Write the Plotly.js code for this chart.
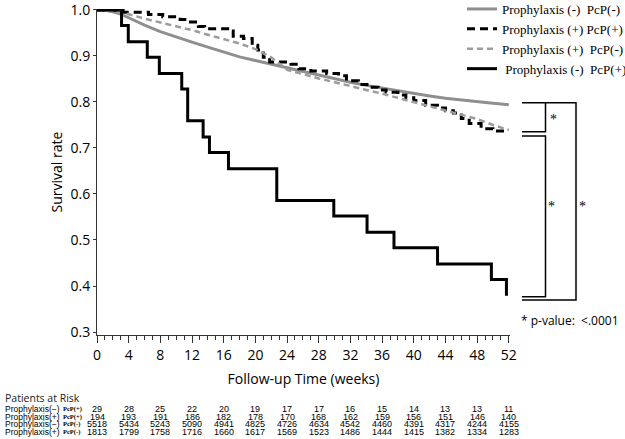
<!DOCTYPE html>
<html>
<head>
<meta charset="utf-8">
<script src="https://cdn.plot.ly/plotly-3.0.1.min.js"></script>
<style>html,body{margin:0;padding:0;background:#fff;}#chart{width:625px;height:439px;}</style>
</head>
<body>
<div id="chart"></div>
<script>
// ---------- DATA ----------
const seriesNames = [
  "Prophylaxis (-)\u00a0 PcP(-)",
  "Prophylaxis (+) PcP(+)",
  "Prophylaxis (+)\u00a0 PcP(-)",
  "\u00a0Prophylaxis (-)\u00a0 PcP(+)"
];

// Prophylaxis(-) PcP(-)
const negNegWeeks = [0,1,2,3,4,5,6,8,10,12,14,16,18,20,22,24,26,28,30,32,34,36,38,40,42,44,46,48,50,52];
const negNegSurv  = [1.0,0.999,0.996,0.991,0.983,0.975,0.967,0.953,0.941,0.930,0.919,0.908,0.898,0.890,0.882,0.874,0.866,0.858,0.850,0.843,0.836,0.830,0.824,0.818,0.813,0.808,0.804,0.800,0.797,0.794];

// Prophylaxis(+) PcP(+)
const posPosWeeks = [0,3.3,6.5,8.3,10.5,11.3,12.8,13.6,16.5,17.2,18.5,19.6,20.3,21.0,21.8,24.5,25.5,27.0,29.0,30.5,31.5,33.0,34.5,35.5,36.5,38.0,39.0,40.0,41.5,43.0,44.0,45.0,46.0,47.0,48.5,50.0,52.0];
const posPosSurv  = [1.0,0.995,0.990,0.985,0.979,0.974,0.964,0.959,0.954,0.943,0.938,0.923,0.913,0.897,0.887,0.882,0.872,0.867,0.862,0.857,0.846,0.838,0.832,0.826,0.821,0.815,0.809,0.803,0.793,0.787,0.781,0.776,0.764,0.753,0.742,0.737,0.737];

// Prophylaxis(+) PcP(-)
const posNegWeeks = [0,2,3,4,5,6,7,8,10,12,14,16,18,20,22,24,26,28,30,32,34,36,38,40,42,44,46,48,50,52];
const posNegSurv  = [1.0,0.998,0.995,0.991,0.986,0.981,0.977,0.973,0.965,0.956,0.946,0.937,0.927,0.915,0.897,0.870,0.860,0.851,0.843,0.834,0.826,0.818,0.809,0.800,0.791,0.781,0.772,0.763,0.750,0.739];

// Prophylaxis(-) PcP(+)
const negPosWeeks = [0,3.1,3.95,6.35,7.87,10.7,11.45,13.4,14.2,16.6,22.7,29.9,34.1,37.5,43.0,49.8,51.7];
const negPosSurv  = [1.0,0.966,0.931,0.897,0.862,0.828,0.759,0.724,0.690,0.655,0.586,0.552,0.517,0.483,0.448,0.414,0.379];

// axis ticks
const xTickVals = [0,4,8,12,16,20,24,28,32,36,40,44,48,52];
const yTickVals = [0.3,0.4,0.5,0.6,0.7,0.8,0.9,1.0];

// patients at risk table
const riskWeeks = [0,4,8,12,16,20,24,28,32,36,40,44,48,52];
const riskRowLabels = ["Prophylaxis(\u2212)","Prophylaxis(+)","Prophylaxis(\u2212)","Prophylaxis(+)"];
const riskRowTags = ["PcP(+)","PcP(+)","PcP(-)","PcP(-)"];
const riskNegPos = [29,28,25,22,20,19,17,17,16,15,14,13,13,11];
const riskPosPos = [194,193,191,186,182,178,170,168,162,159,156,151,146,140];
const riskNegNeg = [5518,5434,5243,5090,4941,4825,4726,4634,4542,4460,4391,4317,4244,4155];
const riskPosNeg = [1813,1799,1758,1716,1660,1617,1569,1523,1486,1444,1415,1382,1334,1283];

// ---------- LAYOUT GEOMETRY ----------
const W = 625, H = 439;
const ML = 97, MR = 115, MT = 9, MB = 104;
const PW = W - ML - MR, PH = H - MT - MB;
const XR = [0, 52.15], YR = [0.2935, 1.002];
const fx = px => (px - ML) / PW;           // pixel x -> paper
const fy = py => (H - MB - py) / PH;       // pixel y -> paper
const vy = v => (v - YR[0]) / (YR[1] - YR[0]); // data y -> paper

const SANS = "'Open Sans', 'DejaVu Sans', sans-serif";
const NARROW = "'Liberation Sans', Arial, sans-serif";
const SERIF = "'Liberation Serif', 'DejaVu Serif', serif";

const traces = [
  {x: negNegWeeks, y: negNegSurv, name: seriesNames[0], mode: 'lines',
   line: {color: '#8f8f8f', width: 3}},
  {x: posPosWeeks, y: posPosSurv, name: seriesNames[1], mode: 'lines',
   line: {color: '#000000', width: 3, dash: '8px,5px', shape: 'hv'}},
  {x: posNegWeeks, y: posNegSurv, name: seriesNames[2], mode: 'lines',
   line: {color: '#9c9c9c', width: 2.5, dash: '6px,4px'}},
  {x: negPosWeeks, y: negPosSurv, name: seriesNames[3], mode: 'lines',
   line: {color: '#000000', width: 3, shape: 'hv'}}
];

// ---------- ANNOTATIONS ----------
const ann = [];
function txt(o) { ann.push(Object.assign({showarrow: false, xanchor: 'center', yanchor: 'middle', borderpad: 0}, o)); }

// significance stars & p-value note
txt({xref: 'paper', yref: 'paper', x: fx(553), y: fy(119), text: '*', font: {family: SERIF, size: 14, color: '#000'}});
txt({xref: 'paper', yref: 'paper', x: fx(551), y: fy(206), text: '*', font: {family: SERIF, size: 14, color: '#000'}});
txt({xref: 'paper', yref: 'paper', x: fx(582), y: fy(206), text: '*', font: {family: SERIF, size: 14, color: '#000'}});
txt({xref: 'paper', yref: 'paper', x: fx(520), y: fy(320), xanchor: 'left',
     text: '* p-value:\u00a0 <.0001', font: {family: SANS, size: 12, color: '#000'}});

// patients at risk
txt({xref: 'paper', yref: 'paper', x: fx(4), y: fy(398), xanchor: 'left',
     text: 'Patients at Risk', font: {family: SANS, size: 10.5, color: '#222'}});
const riskRows = [riskNegPos, riskPosPos, riskNegNeg, riskPosNeg];
const rowPix = [409, 416.7, 424.3, 431.7];
riskRows.forEach((row, r) => {
  txt({xref: 'paper', yref: 'paper', x: fx(4), y: fy(rowPix[r]), xanchor: 'left',
       text: riskRowLabels[r], font: {family: NARROW, size: 8.5, color: '#000'}});
  txt({xref: 'paper', yref: 'paper', x: fx(62), y: fy(rowPix[r]), xanchor: 'left',
       text: '<b>' + riskRowTags[r] + '</b>', font: {family: SERIF, size: 6.5, color: '#000'}});
  row.forEach((n, i) => {
    txt({xref: 'x', yref: 'paper', x: riskWeeks[i], y: fy(rowPix[r]),
         text: String(n), font: {family: NARROW, size: 9, color: '#000'}});
  });
});

// ---------- BRACKETS ----------
const topV = 0.798, in1Bot = 0.7354, in2Top = 0.726, in2Bot = 0.3767, outBot = 0.3696;
const bx0 = fx(522), bxIn = fx(545.5), bxOut = fx(576);
const shapes = [
  {type: 'path', xref: 'paper', yref: 'paper',
   path: `M ${bx0} ${vy(topV)} L ${bxOut} ${vy(topV)} L ${bxOut} ${vy(outBot)} L ${bx0} ${vy(outBot)}`,
   line: {color: '#000', width: 1.5}},
  {type: 'path', xref: 'paper', yref: 'paper',
   path: `M ${bxIn} ${vy(topV)} L ${bxIn} ${vy(in1Bot)} L ${bx0} ${vy(in1Bot)}`,
   line: {color: '#000', width: 1.5}},
  {type: 'path', xref: 'paper', yref: 'paper',
   path: `M ${bx0} ${vy(in2Top)} L ${bxIn} ${vy(in2Top)} L ${bxIn} ${vy(in2Bot)} L ${bx0} ${vy(in2Bot)}`,
   line: {color: '#000', width: 1.5}}
];

const layout = {
  width: W, height: H,
  margin: {l: ML, r: MR, t: MT, b: MB, pad: 0, autoexpand: false},
  paper_bgcolor: '#fff', plot_bgcolor: '#fff',
  showlegend: true,
  legend: {
    xref: 'container', yref: 'paper',
    x: 462 / W, y: fy(-6), xanchor: 'left', yanchor: 'top',
    bgcolor: 'rgba(0,0,0,0)', borderwidth: 0,
    font: {family: SERIF, size: 13, color: '#000'},
    itemwidth: 30, tracegroupgap: 0
  },
  xaxis: {
    range: XR, showgrid: false, zeroline: false, automargin: false,
    showline: true, linecolor: '#333', linewidth: 1,
    tickmode: 'array', tickvals: xTickVals, ticktext: xTickVals.map(String),
    ticks: 'outside', ticklen: 7, tickwidth: 1, tickcolor: '#333',
    minor: {dtick: 1, tick0: 0, ticks: 'outside', ticklen: 4, tickwidth: 1, tickcolor: '#333', showgrid: false},
    tickfont: {family: SANS, size: 14, color: '#000'},
    ticklabeloverflow: 'allow',
    title: {text: 'Follow-up Time (weeks)', font: {family: SANS, size: 14, color: '#000'}, standoff: 11},
    fixedrange: true
  },
  yaxis: {
    range: YR, showgrid: false, zeroline: false, automargin: false,
    showline: true, linecolor: '#333', linewidth: 1,
    tickmode: 'array', tickvals: yTickVals, ticktext: yTickVals.map(v => v.toFixed(1)),
    ticks: 'outside', ticklen: 3, tickwidth: 1, tickcolor: '#333',
    tickfont: {family: SANS, size: 14, color: '#000'},
    ticklabeloverflow: 'allow',
    title: {text: 'Survival rate', font: {family: SANS, size: 14, color: '#000'}, standoff: 4},
    fixedrange: true
  },
  annotations: ann,
  shapes: shapes
};

Plotly.newPlot('chart', traces, layout, {displayModeBar: false, staticPlot: true});
</script>
</body>
</html>
